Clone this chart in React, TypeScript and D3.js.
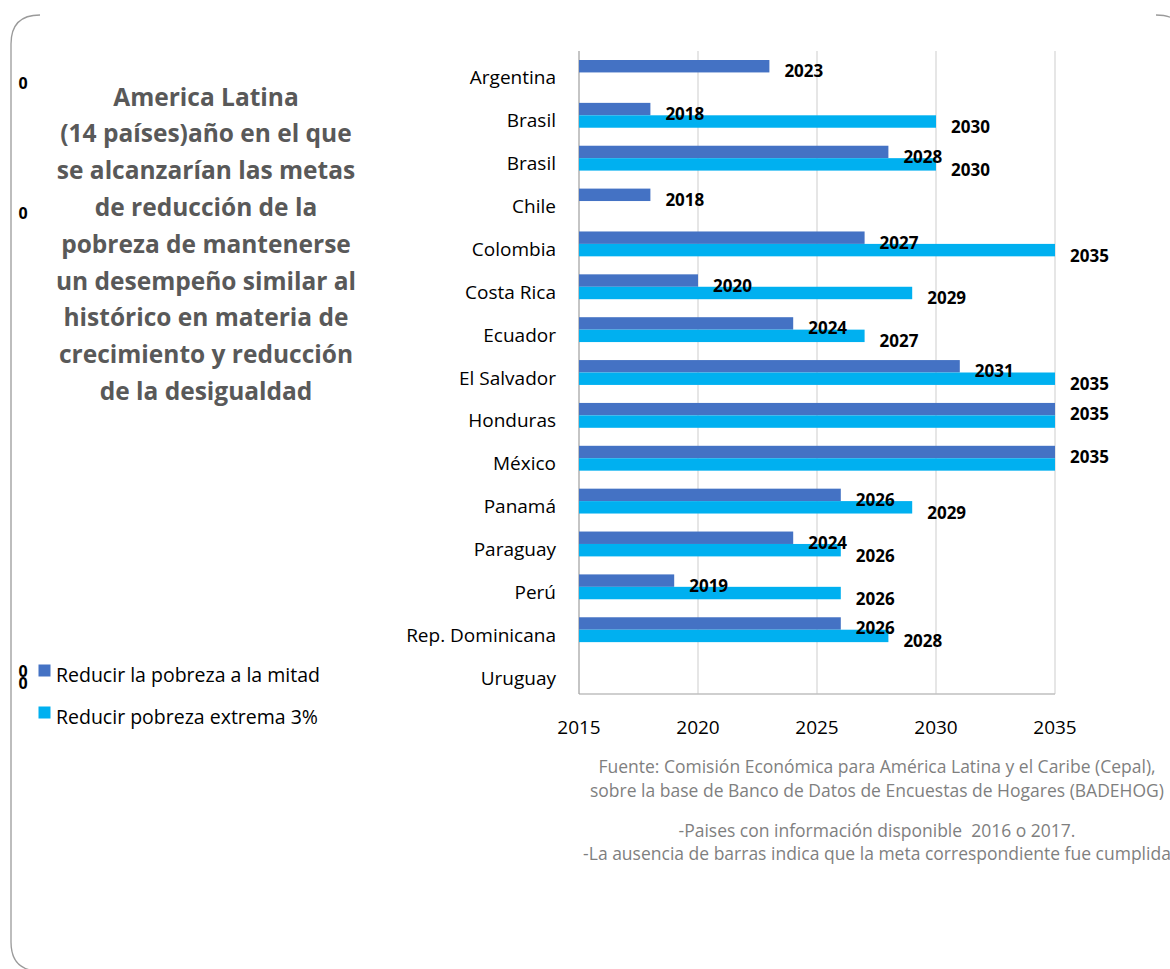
import React from "react";
import * as d3 from "d3";

const categories = [
  "Argentina", "Brasil", "Brasil", "Chile", "Colombia", "Costa Rica", "Ecuador",
  "El Salvador", "Honduras", "México", "Panamá", "Paraguay", "Perú",
  "Rep. Dominicana", "Uruguay",
];
const halfPoverty: (number | null)[] = [2023, 2018, 2028, 2018, 2027, 2020, 2024, 2031, 2035, 2035, 2026, 2024, 2019, 2026, null];
const extremePoverty: (number | null)[] = [null, 2030, 2030, null, 2035, 2029, 2027, 2035, 2035, 2035, 2029, 2026, 2026, 2028, null];
const extremeLabelShown = [true, true, true, true, true, true, true, true, false, false, true, true, true, true, true];
const xTicks = [2015, 2020, 2025, 2030, 2035];
const seriesNames = ["Reducir la pobreza a la mitad", "Reducir pobreza extrema 3%"];
const seriesColors = ["#4472C4", "#00B0F0"];
const titleLines = [
  "America Latina",
  "(14 países)año en el que",
  "se alcanzarían las metas",
  "de reducción de la",
  "pobreza de mantenerse",
  "un desempeño similar al",
  "histórico en materia de",
  "crecimiento y reducción",
  "de la desigualdad",
];
const notes = [
  "Fuente: Comisión Económica para América Latina y el Caribe (Cepal),",
  "sobre la base de Banco de Datos de Encuestas de Hogares (BADEHOG)",
];
const notes2 = [
  "-Paises con información disponible  2016 o 2017.",
  "-La ausencia de barras indica que la meta correspondiente fue cumplida",
];

const FONT = "'Open Sans', sans-serif";

export default function App() {
  const W = 1170, H = 969;
  const x = d3.scaleLinear().domain([2015, 2035]).range([579, 1055]);
  const y = d3.scaleBand<number>()
    .domain(categories.map((_, i) => i))
    .range([51, 694])
    .paddingInner(0.42)
    .paddingOuter(0.21);
  const bw = y.bandwidth() / 2;
  const [y0, y1] = y.range();

  return (
    <svg width={W} height={H} style={{ position: "absolute", left: 0, top: 0, background: "#fff" }} fontFamily={FONT}>
      {/* frame */}
      <path d="M 40 15 Q 11 15 11 44 L 11 942 Q 11 971 40 971" fill="none" stroke="#9a9a9a" strokeWidth={1.3} />
      <path d="M 1156 15 Q 1166 15 1172 18" fill="none" stroke="#9a9a9a" strokeWidth={1.3} />

      {/* title */}
      {titleLines.map((t, i) => (
        <text key={i} x={206} y={96 + i * 36.8} textAnchor="middle" dominantBaseline="central"
          fontSize={24.5} fontWeight="bold" fill="#595959">{t}</text>
      ))}
      <text x={23} y={83} textAnchor="middle" dominantBaseline="central" fontSize={16} fontWeight="bold" fill="#000">0</text>
      <text x={23} y={213} textAnchor="middle" dominantBaseline="central" fontSize={16} fontWeight="bold" fill="#000">0</text>

      {/* legend */}
      <text x={23} y={671} textAnchor="middle" dominantBaseline="central" fontSize={16} fontWeight="bold" fill="#000">0</text>
      <text x={23} y={682.5} textAnchor="middle" dominantBaseline="central" fontSize={16} fontWeight="bold" fill="#000">0</text>
      {seriesNames.map((n, i) => (
        <g key={n}>
          <rect x={38.5} y={664.5 + i * 42} width={12} height={12} fill={seriesColors[i]} />
          <text x={56} y={674 + i * 42} dominantBaseline="central" fontSize={19.5} fill="#000">{n}</text>
        </g>
      ))}

      {/* grid */}
      {xTicks.slice(1).map((t) => (
        <line key={t} x1={x(t)} x2={x(t)} y1={y0} y2={y1} stroke="#d9d9d9" strokeWidth={1.3} />
      ))}
      <line x1={x(2015)} x2={x(2035)} y1={y1} y2={y1} stroke="#bfbfbf" strokeWidth={1.3} />
      <line x1={x(2015)} x2={x(2015)} y1={y0} y2={y1} stroke="#a6a6a6" strokeWidth={1.3} />

      {/* bars */}
      {categories.map((c, i) => {
        const top = y(i)!;
        const a = halfPoverty[i];
        const b = extremePoverty[i];
        return (
          <g key={i}>
            {a != null && (
              <rect x={x(2015)} y={top} width={x(a) - x(2015)} height={bw} fill={seriesColors[0]} />
            )}
            {b != null && (
              <rect x={x(2015)} y={top + bw} width={x(b) - x(2015)} height={bw} fill={seriesColors[1]} />
            )}
          </g>
        );
      })}
      {/* labels */}
      {categories.map((c, i) => {
        const top = y(i)!;
        const a = halfPoverty[i];
        const b = extremePoverty[i];
        return (
          <g key={"l" + i}>
            {a != null && (
              <text x={x(a) + 15} y={top + bw / 2 + 4.5} dominantBaseline="central" fontSize={17} fontWeight="bold" fill="#000">{a}</text>
            )}
            {b != null && extremeLabelShown[i] && (
              <text x={x(b) + 15} y={top + bw * 1.5 + 5} dominantBaseline="central" fontSize={17} fontWeight="bold" fill="#000">{b}</text>
            )}
          </g>
        );
      })}

      {/* category axis */}
      {categories.map((c, i) => (
        <text key={"c" + i} x={556} y={y(i)! + y.bandwidth() / 2 + 5} textAnchor="end" dominantBaseline="central"
          fontSize={19} fill="#000">{c}</text>
      ))}
      {/* value axis */}
      {xTicks.map((t) => (
        <text key={"t" + t} x={x(t)} y={727} textAnchor="middle" dominantBaseline="central" fontSize={19} fill="#000">{t}</text>
      ))}

      {/* notes */}
      {notes.map((n, i) => (
        <text key={n} x={877} y={766 + i * 24} textAnchor="middle" dominantBaseline="central" fontSize={17.5} fill="#7f7f7f">{n}</text>
      ))}
      <text x={877} y={830} textAnchor="middle" dominantBaseline="central" fontSize={17.5} fill="#7f7f7f" style={{ whiteSpace: "pre" }}>{notes2[0]}</text>
      <text x={877} y={853} textAnchor="middle" dominantBaseline="central" fontSize={17.5} fill="#7f7f7f">{notes2[1]}</text>
    </svg>
  );
}
